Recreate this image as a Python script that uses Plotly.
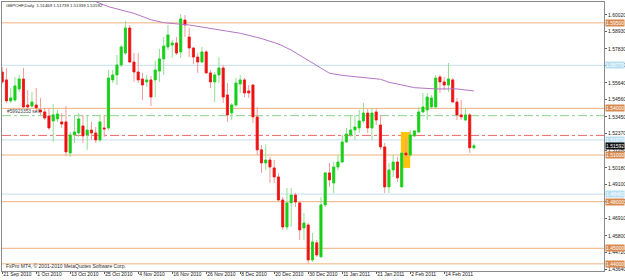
import plotly.graph_objects as go

# ---------------- data ----------------
x_labels = ["21 Sep 2010", "1 Oct 2010", "13 Oct 2010", "25 Oct 2010", "4 Nov 2010",
            "16 Nov 2010", "26 Nov 2010", "8 Dec 2010", "20 Dec 2010", "30 Dec 2010",
            "11 Jan 2011", "21 Jan 2011", "2 Feb 2011", "14 Feb 2011"]
label_bars = [0, 8, 16, 24, 32, 40, 48, 56, 64, 72, 80, 88, 96, 104]

opens = [1.5634, 1.5583, 1.5448, 1.5454, 1.5525, 1.5589, 1.5422, 1.5415, 1.5422, 1.5390,
         1.5377, 1.5351, 1.5319, 1.5332, 1.5313, 1.5313, 1.5113, 1.5229, 1.5242, 1.5287,
         1.5229, 1.5261, 1.5242, 1.5197, 1.5274, 1.5274, 1.5583, 1.5615, 1.5679, 1.5756,
         1.5917, 1.5698, 1.5634, 1.5589, 1.5570, 1.5583, 1.5583, 1.5640, 1.5718, 1.5795,
         1.5808, 1.5820, 1.5763, 1.5968, 1.5859, 1.5788, 1.5730, 1.5698, 1.5763, 1.5628,
         1.5570, 1.5615, 1.5660, 1.5486, 1.5370, 1.5422, 1.5557, 1.5583, 1.5512, 1.5550,
         1.5345, 1.5133, 1.5049, 1.5068, 1.5017, 1.4959, 1.4811, 1.4637, 1.4792, 1.4843,
         1.4792, 1.4631, 1.4650, 1.4425, 1.4535, 1.4445, 1.4779, 1.4985, 1.4920, 1.5023,
         1.5055, 1.5184, 1.5229, 1.5261, 1.5274, 1.5319, 1.5370, 1.5274, 1.5377, 1.5293,
         1.5152, 1.4895, 1.5004, 1.5055, 1.4895, 1.5113, 1.5100, 1.5223, 1.5248, 1.5377,
         1.5390, 1.5409, 1.5409, 1.5602, 1.5570, 1.5550, 1.5583, 1.5441, 1.5358, 1.5325,
         1.5358, 1.51469]
highs = [1.5666, 1.5660, 1.5531, 1.5602, 1.5615, 1.5660, 1.5518, 1.5505, 1.5531, 1.5467,
         1.5403, 1.5403, 1.5428, 1.5390, 1.5370, 1.5415, 1.5248, 1.5358, 1.5370, 1.5358,
         1.5358, 1.5313, 1.5280, 1.5358, 1.5358, 1.5647, 1.5647, 1.5743, 1.5808, 1.5962,
         1.5936, 1.5756, 1.5756, 1.5628, 1.5615, 1.5608, 1.5705, 1.5782, 1.5859, 1.5936,
         1.5840, 1.5859, 1.6007, 1.6000, 1.5917, 1.5795, 1.5756, 1.5795, 1.5775, 1.5647,
         1.5634, 1.5730, 1.5679, 1.5563, 1.5435, 1.5595, 1.5615, 1.5595, 1.5550, 1.5557,
         1.5409, 1.5165, 1.5165, 1.5088, 1.5068, 1.4985, 1.4830, 1.4888, 1.4888, 1.4856,
         1.4798, 1.4727, 1.4663, 1.4599, 1.4554, 1.4830, 1.4991, 1.5049, 1.5055, 1.5100,
         1.5229, 1.5274, 1.5358, 1.5358, 1.5390, 1.5435, 1.5396, 1.5403, 1.5403, 1.5358,
         1.5178, 1.5049, 1.5100, 1.5088, 1.5120, 1.5210, 1.5261, 1.5261, 1.5409, 1.5499,
         1.5499, 1.5486, 1.5615, 1.5615, 1.5602, 1.5692, 1.5595, 1.5467, 1.5454, 1.5403,
         1.5370, 1.51739]
lows = [1.5557, 1.5435, 1.5435, 1.5441, 1.5505, 1.5403, 1.5390, 1.5403, 1.5377, 1.5358,
        1.5325, 1.5261, 1.5184, 1.5313, 1.5274, 1.5094, 1.5088, 1.5178, 1.5216, 1.5178,
        1.5133, 1.5197, 1.5178, 1.5184, 1.5216, 1.5261, 1.5563, 1.5550, 1.5666, 1.5743,
        1.5692, 1.5570, 1.5563, 1.5454, 1.5538, 1.5415, 1.5473, 1.5570, 1.5615, 1.5775,
        1.5724, 1.5743, 1.5724, 1.5859, 1.5730, 1.5685, 1.5628, 1.5692, 1.5622, 1.5531,
        1.5441, 1.5563, 1.5435, 1.5313, 1.5325, 1.5409, 1.5499, 1.5473, 1.5467, 1.5306,
        1.5100, 1.4985, 1.5004, 1.4920, 1.4920, 1.4805, 1.4618, 1.4618, 1.4637, 1.4766,
        1.4554, 1.4554, 1.4400, 1.4412, 1.4445, 1.4438, 1.4766, 1.4895, 1.4856, 1.5004,
        1.5049, 1.5178, 1.5216, 1.5197, 1.5242, 1.5306, 1.5242, 1.5197, 1.5293, 1.5133,
        1.4856, 1.4856, 1.4959, 1.4927, 1.4895, 1.5081, 1.5088, 1.5216, 1.5242, 1.5370,
        1.5325, 1.5403, 1.5403, 1.5499, 1.5518, 1.5505, 1.5435, 1.5325, 1.5325, 1.5319,
        1.5113, 1.51339]
closes = [1.5570, 1.5448, 1.5467, 1.5544, 1.5589, 1.5409, 1.5409, 1.5441, 1.5403, 1.5377,
          1.5338, 1.5274, 1.5358, 1.5364, 1.5300, 1.5120, 1.5229, 1.5248, 1.5332, 1.5223,
          1.5261, 1.5242, 1.5197, 1.5313, 1.5268, 1.5595, 1.5615, 1.5679, 1.5795, 1.5917,
          1.5698, 1.5634, 1.5583, 1.5550, 1.5583, 1.5473, 1.5647, 1.5718, 1.5801, 1.5872,
          1.5820, 1.5756, 1.5975, 1.5936, 1.5788, 1.5730, 1.5698, 1.5763, 1.5628, 1.5570,
          1.5615, 1.5660, 1.5473, 1.5358, 1.5422, 1.5563, 1.5583, 1.5499, 1.5499, 1.5345,
          1.5133, 1.5049, 1.5068, 1.5023, 1.4959, 1.4811, 1.4637, 1.4792, 1.4843, 1.4798,
          1.4618, 1.4663, 1.4425, 1.4541, 1.4457, 1.4779, 1.4985, 1.4940, 1.5023, 1.5055,
          1.5184, 1.5235, 1.5261, 1.5280, 1.5319, 1.5370, 1.5274, 1.5370, 1.5325, 1.5152,
          1.4895, 1.5004, 1.5055, 1.4953, 1.5113, 1.5100, 1.5229, 1.5255, 1.5377, 1.5409,
          1.5473, 1.5467, 1.5595, 1.5570, 1.5550, 1.5589, 1.5441, 1.5358, 1.5345, 1.5358,
          1.5147, 1.51592]

ma_bar = [18, 21, 25, 31, 35, 38, 44, 50, 56, 61, 65, 68, 72, 77, 80, 84, 89, 91, 97, 102, 107, 111]
ma_val = [1.6116, 1.6097, 1.6054, 1.6011, 1.5970, 1.5951, 1.5936, 1.5911, 1.5883, 1.5849,
          1.5814, 1.5775, 1.5711, 1.5626, 1.5612, 1.5602, 1.5587, 1.5568, 1.5533, 1.5525,
          1.5525, 1.5512]

orange_levels = [1.59500, 1.54000, 1.51000, 1.48000, 1.45000, 1.44000]
blue_levels = [1.56770, 1.51970, 1.48480]
order_level = 1.53530
stop_level = 1.52260
last_price = 1.51592
y_ticks = [1.60020, 1.58930, 1.57830, 1.56750, 1.55640, 1.54560, 1.53450, 1.52370,
           1.51280, 1.50180, 1.49100, 1.48000, 1.46910, 1.45800, 1.44720, 1.43640]
zone_bars = [93.8, 96.0]
zone_prices = [1.5017, 1.5248]

title_text = "GBPCHF,Daily  1.51469 1.51739 1.51339 1.51592"
order_text = "#59923353 sell"
copyright_text = "FxPro MT4, \u00a9 2001-2010 MetaQuotes Software Corp."

# ---------------- figure ----------------
bars = list(range(len(opens)))
body_hi = [max(o, c) for o, c in zip(opens, closes)]
body_lo = [min(o, c) for o, c in zip(opens, closes)]

FONT = "Liberation Sans"
fig = go.Figure()

# wicks (light)
fig.add_trace(go.Candlestick(
    x=bars, open=opens, high=highs, low=lows, close=closes,
    increasing=dict(line=dict(color="#8fe08f", width=1), fillcolor="rgba(0,0,0,0)"),
    decreasing=dict(line=dict(color="#f39a9a", width=1), fillcolor="rgba(0,0,0,0)"),
    whiskerwidth=0, showlegend=False, hoverinfo="skip"))
# bodies (strong)
fig.add_trace(go.Candlestick(
    x=bars, open=opens, high=body_hi, low=body_lo, close=closes,
    increasing=dict(line=dict(color="#16d016", width=0.6), fillcolor="#16d016"),
    decreasing=dict(line=dict(color="#ee1111", width=0.6), fillcolor="#ee1111"),
    whiskerwidth=0, showlegend=False, hoverinfo="skip"))

fig.add_trace(go.Scatter(x=ma_bar, y=ma_val, mode="lines",
                         line=dict(color="#b574c4", width=1), showlegend=False, hoverinfo="skip"))

shapes = []
for lv in orange_levels:
    shapes.append(dict(type="line", xref="paper", x0=0, x1=1, yref="y", y0=lv, y1=lv,
                       line=dict(color="rgba(236,168,110,0.9)", width=1), layer="below"))
for lv in blue_levels:
    shapes.append(dict(type="line", xref="paper", x0=0, x1=1, yref="y", y0=lv, y1=lv,
                       line=dict(color="#cde6f2", width=1.2), layer="below"))
shapes.append(dict(type="line", xref="paper", x0=0, x1=1, yref="y", y0=order_level, y1=order_level,
                   line=dict(color="#88d488", width=1, dash="dashdot"), layer="below"))
shapes.append(dict(type="line", xref="paper", x0=0, x1=1, yref="y", y0=stop_level, y1=stop_level,
                   line=dict(color="#e86a6a", width=1, dash="dashdot"), layer="below"))
shapes.append(dict(type="rect", xref="x", x0=zone_bars[0], x1=zone_bars[1], yref="y",
                   y0=zone_prices[0], y1=zone_prices[1], fillcolor="#ffc20e",
                   line=dict(width=0), layer="below"))

annotations = []
def axis_box(level, text, bg):
    annotations.append(dict(xref="paper", x=1, xanchor="left", xshift=1, yref="y", y=level,
                            yanchor="middle", text=text, showarrow=False, bgcolor=bg,
                            borderpad=0, font=dict(family=FONT, size=5, color="white")))
for lv in orange_levels:
    axis_box(lv, f"{lv:.5f}", "#d88a4e")
for lv in blue_levels:
    axis_box(lv, f"{lv:.5f}", "#b9def0")
axis_box(last_price, f"{last_price:.5f}", "#101010")

annotations.append(dict(xref="paper", x=0, xanchor="left", xshift=2, yref="paper", y=0.986,
                        yanchor="middle", text=title_text, showarrow=False,
                        font=dict(family=FONT, size=4.3, color="#202020")))
annotations.append(dict(xref="paper", x=0, xanchor="left", xshift=3, yref="y", y=order_level,
                        yanchor="bottom", text=order_text, showarrow=False,
                        font=dict(family=FONT, size=4.8, color="#404040")))
annotations.append(dict(xref="paper", x=0, xanchor="left", xshift=2, yref="paper", y=0.018,
                        yanchor="middle", text=copyright_text, showarrow=False,
                        font=dict(family=FONT, size=5, color="#303030")))

fig.update_layout(
    width=625, height=280,
    margin=dict(l=2, r=21, t=2, b=9),
    paper_bgcolor="white", plot_bgcolor="white",
    showlegend=False, boxgap=0.3,
    shapes=shapes, annotations=annotations,
    xaxis=dict(range=[-0.05, 141.6], rangeslider=dict(visible=False),
               tickmode="array", tickvals=label_bars, ticktext=x_labels,
               ticks="outside", ticklen=2, tickcolor="#606060", tickangle=0,
               ticklabelposition="outside right", ticklabelstandoff=-2,
               tickfont=dict(family=FONT, size=5, color="#202020"),
               showgrid=False, zeroline=False, showline=True, linecolor="#8a8a8a",
               linewidth=1, mirror=True, automargin=False, fixedrange=True),
    yaxis=dict(range=[1.4354, 1.6084], side="right",
               tickmode="array", tickvals=y_ticks, ticktext=[f"{v:.5f}" for v in y_ticks],
               ticks="outside", ticklen=2, tickcolor="#606060",
               tickfont=dict(family=FONT, size=5, color="#202020"),
               showgrid=False, zeroline=False, showline=True, linecolor="#8a8a8a",
               linewidth=1, mirror=True, automargin=False, fixedrange=True),
)

fig.write_html("out.html")
